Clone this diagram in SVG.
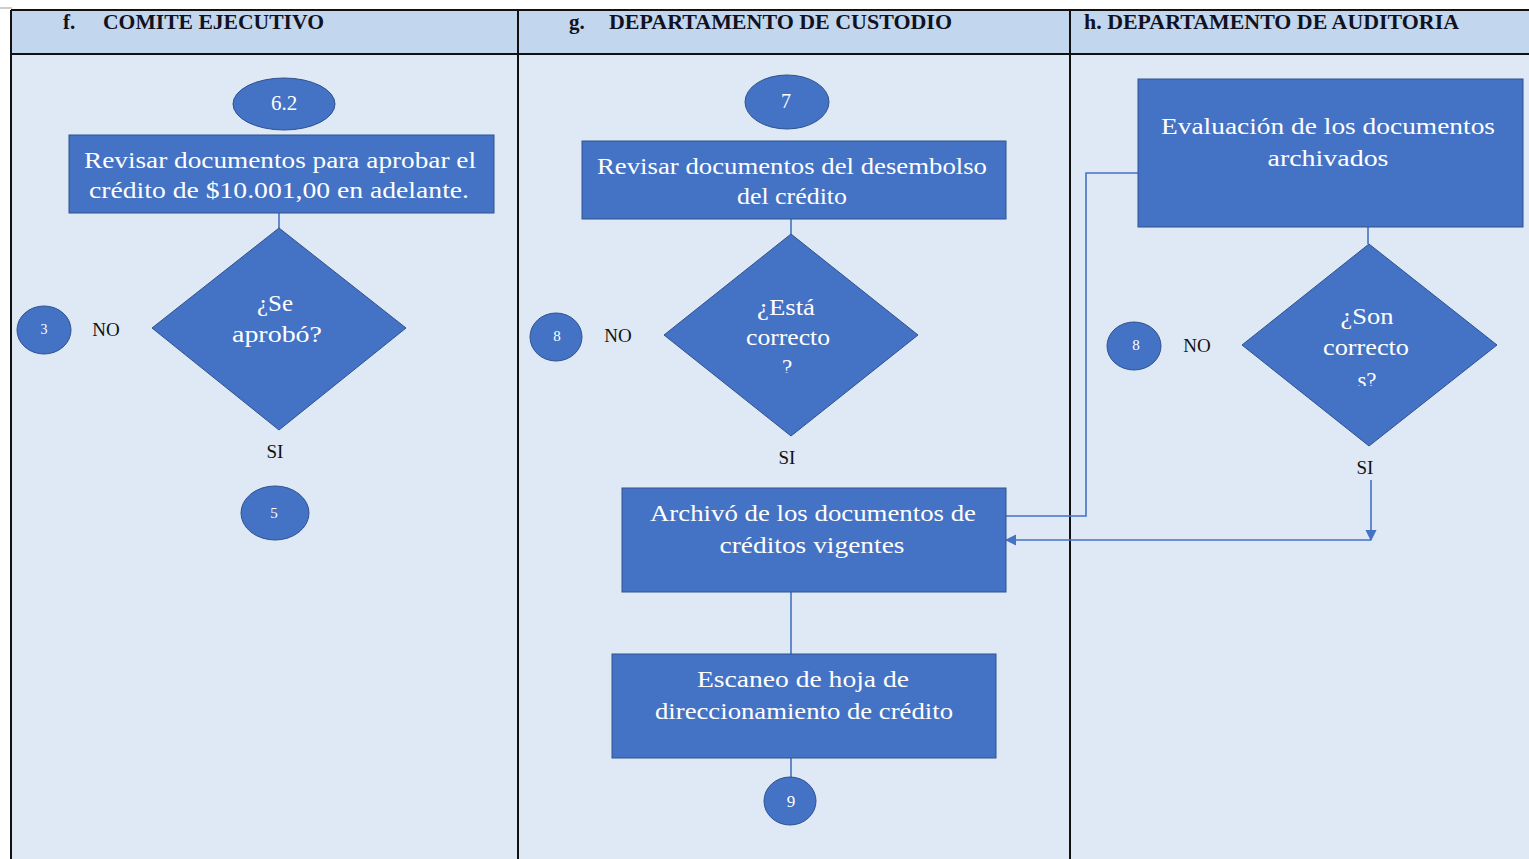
<svg xmlns="http://www.w3.org/2000/svg" width="1529" height="859" viewBox="0 0 1529 859">
  <style>
    .hdr { fill: #c2d7ed; }
    .body { fill: #dee9f5; }
    .grid { stroke: #111; stroke-width: 2; fill: none; }
    .shape { fill: #4472c4; stroke: #2f528f; stroke-width: 1; }
    .htxt { font-family: "Liberation Serif", "Times New Roman", "DejaVu Serif", serif; font-weight: bold; font-size: 21px; fill: #111122; }
    .wtxt { font-family: "Liberation Serif", "Times New Roman", "DejaVu Serif", serif; font-size: 23px; fill: #ffffff; text-anchor: middle; }
    .num { font-family: "Liberation Serif", "Times New Roman", "DejaVu Serif", serif; fill: #ffffff; text-anchor: middle; }
    .lbl { font-family: "Liberation Serif", "Times New Roman", "DejaVu Serif", serif; font-size: 19px; fill: #111; text-anchor: middle; }
    .conn { stroke: #4472c4; stroke-width: 1.6; fill: none; }
  </style>
  <defs>
    <marker id="arrow" viewBox="0 0 10 10" refX="9" refY="5" markerWidth="7" markerHeight="7" orient="auto">
      <path d="M0,0 L10,5 L0,10 z" fill="#4472c4"/>
    </marker>
    <clipPath id="clipG"><rect x="680" y="280" width="220" height="93"/></clipPath>
    <clipPath id="clipH"><rect x="1260" y="290" width="220" height="96"/></clipPath>
  </defs>

  <!-- swimlane table -->
  <g id="table">
    <rect class="body" x="11" y="54" width="1518" height="805"/>
    <rect class="hdr" x="11" y="10" width="1518" height="44"/>
    <line x1="0" y1="8" x2="12" y2="8" stroke="#999" stroke-width="1"/>
    <line class="grid" x1="11" y1="10" x2="1529" y2="10"/>
    <line class="grid" x1="11" y1="54" x2="1529" y2="54"/>
    <line class="grid" x1="11" y1="10" x2="11" y2="859"/>
    <line class="grid" x1="518" y1="10" x2="518" y2="859"/>
    <line class="grid" x1="1070" y1="10" x2="1070" y2="859"/>
    <text class="htxt" x="63" y="29" font-size="17">f.</text>
    <text class="htxt" x="103" y="29" textLength="221" lengthAdjust="spacingAndGlyphs">COMITE EJECUTIVO</text>
    <text class="htxt" x="569" y="29" font-size="17">g.</text>
    <text class="htxt" x="609" y="29" textLength="343" lengthAdjust="spacingAndGlyphs">DEPARTAMENTO DE CUSTODIO</text>
    <text class="htxt" x="1084" y="29" textLength="375" lengthAdjust="spacingAndGlyphs">h. DEPARTAMENTO DE AUDITORIA</text>
  </g>

  <!-- connectors -->
  <g id="connectors">
    <line class="conn" x1="279" y1="213" x2="279" y2="228"/>
    <line class="conn" x1="791" y1="219" x2="791" y2="234"/>
    <line class="conn" x1="791" y1="592" x2="791" y2="654"/>
    <line class="conn" x1="791" y1="758" x2="791" y2="778"/>
    <line class="conn" x1="1368" y1="227" x2="1368" y2="244"/>
    <polyline class="conn" points="1138,173 1086,173 1086,516 1006,516" stroke="#6f95d6" stroke-width="2"/>
    <line class="conn" x1="1371" y1="480" x2="1371" y2="540" marker-end="url(#arrow)"/>
    <line class="conn" x1="1371" y1="540" x2="1006" y2="540" marker-end="url(#arrow)"/>
  </g>

  <!-- Comite Ejecutivo lane -->
  <g id="n-6-2">
    <ellipse class="shape" cx="284" cy="104" rx="51" ry="26"/>
    <text class="num" x="284" y="110" font-size="21">6.2</text>
  </g>
  <g id="n-revisar-aprobar">
    <rect class="shape" x="69" y="135" width="425" height="78"/>
    <text class="wtxt" x="280" y="168" textLength="392" lengthAdjust="spacingAndGlyphs">Revisar documentos para aprobar el</text>
    <text class="wtxt" x="279" y="198" textLength="380" lengthAdjust="spacingAndGlyphs">crédito de $10.001,00  en adelante.</text>
  </g>
  <g id="d-se-aprobo">
    <polygon class="shape" points="279,228 406,328 279,430 152,328"/>
    <text class="wtxt" x="275" y="311" textLength="36" lengthAdjust="spacingAndGlyphs">¿Se</text>
    <text class="wtxt" x="277" y="342" textLength="90" lengthAdjust="spacingAndGlyphs">aprobó?</text>
  </g>
  <g id="c-3">
    <ellipse class="shape" cx="44" cy="330" rx="27" ry="24"/>
    <text class="num" x="44" y="334" font-size="14">3</text>
  </g>
  <text class="lbl" x="106" y="336">NO</text>
  <text class="lbl" x="275" y="458">SI</text>
  <g id="c-5">
    <ellipse class="shape" cx="275" cy="513" rx="34" ry="27"/>
    <text class="num" x="274" y="518" font-size="15">5</text>
  </g>

  <!-- Departamento de Custodio lane -->
  <g id="n-7">
    <ellipse class="shape" cx="787" cy="102" rx="42" ry="27"/>
    <text class="num" x="786" y="108" font-size="20">7</text>
  </g>
  <g id="n-revisar-desembolso">
    <rect class="shape" x="582" y="141" width="424" height="78"/>
    <text class="wtxt" x="792" y="174" textLength="390" lengthAdjust="spacingAndGlyphs">Revisar documentos del desembolso</text>
    <text class="wtxt" x="792" y="204" textLength="110" lengthAdjust="spacingAndGlyphs">del crédito</text>
  </g>
  <g id="d-esta-correcto">
    <polygon class="shape" points="791,234 918,335 791,436 664,335"/>
    <g clip-path="url(#clipG)">
      <text class="wtxt" x="786" y="315" textLength="58" lengthAdjust="spacingAndGlyphs">¿Está</text>
      <text class="wtxt" x="788" y="345" textLength="84" lengthAdjust="spacingAndGlyphs">correcto</text>
      <text class="wtxt" x="787" y="375">?</text>
    </g>
  </g>
  <g id="c-8-custodio">
    <ellipse class="shape" cx="556" cy="337" rx="26" ry="24"/>
    <text class="num" x="557" y="341" font-size="15">8</text>
  </g>
  <text class="lbl" x="618" y="342">NO</text>
  <text class="lbl" x="787" y="464">SI</text>
  <g id="n-archivo">
    <rect class="shape" x="622" y="488" width="384" height="104"/>
    <text class="wtxt" x="813" y="521" textLength="326" lengthAdjust="spacingAndGlyphs">Archivó de los documentos de</text>
    <text class="wtxt" x="812" y="553" textLength="185" lengthAdjust="spacingAndGlyphs">créditos  vigentes</text>
  </g>
  <g id="n-escaneo">
    <rect class="shape" x="612" y="654" width="384" height="104"/>
    <text class="wtxt" x="803" y="687" textLength="212" lengthAdjust="spacingAndGlyphs">Escaneo de hoja de</text>
    <text class="wtxt" x="804" y="719" textLength="298" lengthAdjust="spacingAndGlyphs">direccionamiento de crédito</text>
  </g>
  <g id="c-9">
    <ellipse class="shape" cx="790" cy="801" rx="26" ry="24"/>
    <text class="num" x="791" y="807" font-size="17">9</text>
  </g>

  <!-- Departamento de Auditoria lane -->
  <g id="n-evaluacion">
    <rect class="shape" x="1138" y="79" width="385" height="148"/>
    <text class="wtxt" x="1328" y="134" textLength="334" lengthAdjust="spacingAndGlyphs">Evaluación de los documentos</text>
    <text class="wtxt" x="1328" y="166" textLength="121" lengthAdjust="spacingAndGlyphs">archivados</text>
  </g>
  <g id="d-son-correctos">
    <polygon class="shape" points="1369,244 1497,345 1369,446 1242,345"/>
    <g clip-path="url(#clipH)">
      <text class="wtxt" x="1367" y="324" textLength="53" lengthAdjust="spacingAndGlyphs">¿Son</text>
      <text class="wtxt" x="1366" y="355" textLength="86" lengthAdjust="spacingAndGlyphs">correcto</text>
      <text class="wtxt" x="1367" y="388">s?</text>
    </g>
  </g>
  <g id="c-8-auditoria">
    <ellipse class="shape" cx="1134" cy="346" rx="27" ry="24"/>
    <text class="num" x="1136" y="350" font-size="15">8</text>
  </g>
  <text class="lbl" x="1197" y="352">NO</text>
  <text class="lbl" x="1365" y="474">SI</text>
</svg>
